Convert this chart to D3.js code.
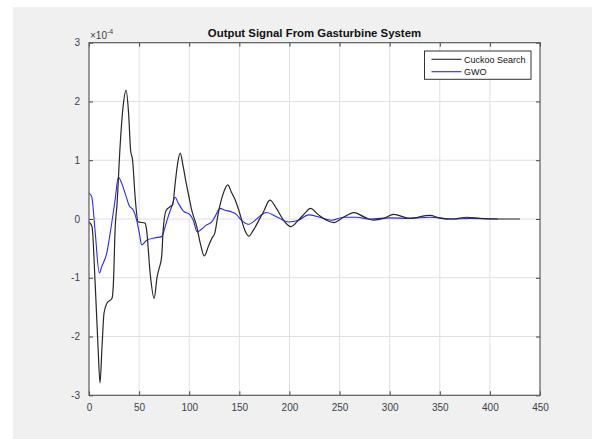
<!DOCTYPE html>
<html>
<head>
<meta charset="utf-8">
<script src="https://cdn.jsdelivr.net/npm/d3@7"></script>
<style>
  body { margin: 0; background: #fff; }
  text { font-family: "Liberation Sans", Arial, sans-serif; }
</style>
</head>
<body>
<script>
// values in units of 1e-4
const cuckooX = [0, 3, 6, 9, 11, 13, 15, 18, 23, 24.5, 26, 28, 31, 34, 37, 39.5, 41.5, 43.5, 46, 49,
    56, 57.5, 61, 65, 68, 70, 72.5, 74, 77, 81, 83.5, 86, 88.5, 91, 94, 97, 99, 102.5, 107.5, 111,
    115, 119, 122.5, 125.5, 129, 133.5, 138.5, 142, 146, 150, 155.5, 159.5, 164, 170.5, 174, 180.5,
    187, 194, 201.5, 209, 215.5, 221, 229, 237, 244.5, 252, 264.5, 274, 284, 294, 304, 320, 340,
    350, 363.5, 377, 390, 408, 430];
const cuckooY = [-0.05, -0.13, -1.04, -2.17, -2.79, -2.17, -1.6, -1.43, -1.35, -1.04, -0.19, 0.26,
    1.23, 1.91, 2.19, 1.8, 1.17, 1.0, 0.38, -0.05, -0.07, -0.19, -0.92, -1.35, -0.98, -0.84, -0.64,
    -0.19, 0.15, 0.21, 0.24, 0.61, 0.95, 1.12, 0.89, 0.61, 0.44, 0.15, -0.13, -0.41, -0.63, -0.47,
    -0.33, -0.24, 0.1, 0.41, 0.58, 0.46, 0.32, 0.12, -0.19, -0.29, -0.19, 0.01, 0.12, 0.32, 0.18,
    -0.02, -0.13, -0.02, 0.1, 0.18, 0.07, -0.02, -0.06, 0.01, 0.11, 0.04, -0.02, 0.01, 0.08, 0.01,
    0.06, 0.02, 0.0, 0.03, 0.01, 0.0, 0.0];

const gwoX = [0, 2.7, 6, 10.3, 12.7, 17.7, 21.6, 26, 29.3, 32.6, 36, 40.3, 44.3, 47.6, 50.2, 52.6,
    57.6, 66, 72.5, 76, 79, 82.5, 86, 89, 94, 100.8, 104, 108, 112.4, 117.4, 122.4, 125.7, 130.7,
    135.7, 142.4, 147, 152, 159, 166, 172, 177, 187, 199, 209, 219, 230, 242, 254, 267, 280, 300,
    320, 340, 360, 380, 408];
const gwoY = [0.44, 0.38, -0.19, -0.92, -0.81, -0.58, -0.19, 0.32, 0.71, 0.61, 0.44, 0.22, 0.15,
    -0.02, -0.24, -0.44, -0.36, -0.32, -0.3, -0.13, 0.04, 0.21, 0.37, 0.27, 0.14, 0.07, -0.02,
    -0.22, -0.17, -0.1, -0.05, 0.04, 0.18, 0.15, 0.12, 0.08, -0.02, -0.09, -0.02, 0.07, 0.11, 0.04,
    -0.05, -0.02, 0.07, 0.03, -0.02, 0.03, 0.03, 0.0, 0.02, 0.01, 0.03, 0.0, 0.01, 0.0];

const xTicks = [0, 50, 100, 150, 200, 250, 300, 350, 400, 450];
const yTicks = [-3, -2, -1, 0, 1, 2, 3];
const seriesNames = ['Cuckoo Search', 'GWO'];
const titleText = 'Output Signal From Gasturbine System';

function main()
{
    const W = 592, H = 439;
    const box = {left: 89, right: 540, top: 42.7, bottom: 395.3};

    const svg = d3.select('body').append('svg')
        .attr('width', W)
        .attr('height', H);

    svg.append('rect')
        .attr('x', 13).attr('y', 7)
        .attr('width', W - 13).attr('height', H - 7)
        .attr('fill', '#f0f0f0');

    const scX = d3.scaleLinear().domain([0, 450]).range([box.left, box.right]);
    const scY = d3.scaleLinear().domain([-3, 3]).range([box.bottom, box.top]);

    svg.append('rect')
        .attr('x', box.left).attr('y', box.top)
        .attr('width', box.right - box.left).attr('height', box.bottom - box.top)
        .attr('fill', '#fff');

    // grid
    const grid = svg.append('g').attr('stroke', '#e0e0e0').attr('stroke-width', 1);
    grid.selectAll('.gx').data(xTicks.slice(1, -1)).enter().append('line')
        .attr('x1', d => scX(d)).attr('x2', d => scX(d))
        .attr('y1', box.top).attr('y2', box.bottom);
    grid.selectAll('.gy').data(yTicks.slice(1, -1)).enter().append('line')
        .attr('y1', d => scY(d)).attr('y2', d => scY(d))
        .attr('x1', box.left).attr('x2', box.right);

    // curves
    const line = d3.line()
        .curve(d3.curveMonotoneX)
        .x(d => scX(d[0]))
        .y(d => scY(d[1]));
    svg.append('path')
        .attr('d', line(d3.zip(gwoX, gwoY)))
        .attr('fill', 'none').attr('stroke', '#2626ff').attr('stroke-width', 1.1);
    svg.append('path')
        .attr('d', line(d3.zip(cuckooX, cuckooY)))
        .attr('fill', 'none').attr('stroke', '#262626').attr('stroke-width', 1.2);

    // axes
    const plain = d => String(d);
    const axisStyle = g => {
        g.select('.domain').remove();
        g.selectAll('.tick line').attr('stroke', '#444');
        g.selectAll('.tick text')
            .attr('fill', '#3a3f4a')
            .style('font-family', '"Liberation Sans", Arial, sans-serif')
            .style('font-size', '10px');
    };
    svg.append('g')
        .attr('transform', `translate(0,${box.bottom})`)
        .call(d3.axisBottom(scX).tickValues(xTicks).tickFormat(plain)
            .tickSizeInner(-4).tickSizeOuter(0).tickPadding(9))
        .call(axisStyle);
    svg.append('g')
        .attr('transform', `translate(0,${box.top})`)
        .call(d3.axisTop(scX).tickValues(xTicks).tickSizeInner(-4).tickSizeOuter(0).tickFormat(''))
        .call(axisStyle);
    svg.append('g')
        .attr('transform', `translate(${box.left},0)`)
        .call(d3.axisLeft(scY).tickValues(yTicks).tickFormat(plain)
            .tickSizeInner(-4).tickSizeOuter(0).tickPadding(9))
        .call(axisStyle);
    svg.append('g')
        .attr('transform', `translate(${box.right},0)`)
        .call(d3.axisRight(scY).tickValues(yTicks).tickSizeInner(-4).tickSizeOuter(0).tickFormat(''))
        .call(axisStyle);

    svg.append('rect')
        .attr('x', box.left).attr('y', box.top)
        .attr('width', box.right - box.left).attr('height', box.bottom - box.top)
        .attr('fill', 'none').attr('stroke', '#5a5a5a').attr('stroke-width', 1.2);

    // exponent label
    const expo = svg.append('text')
        .attr('x', box.left + 1).attr('y', 38.5)
        .attr('fill', '#3a3f4a').style('font-size', '10px');
    expo.append('tspan').text('\u00d710');
    expo.append('tspan').attr('dy', -5).style('font-size', '7px').text('-4');

    // title
    svg.append('text')
        .attr('x', (box.left + box.right) / 2).attr('y', 36.5)
        .attr('text-anchor', 'middle')
        .attr('font-weight', 'bold')
        .style('font-size', '11.4px')
        .attr('fill', '#111')
        .text(titleText);

    // legend
    const leg = svg.append('g');
    leg.append('rect')
        .attr('x', 424.5).attr('y', 51)
        .attr('width', 106.5).attr('height', 28.3)
        .attr('fill', '#fff').attr('stroke', '#333').attr('stroke-width', 1);
    const legColors = ['#262626', '#2626ff'];
    seriesNames.forEach((name, i) => {
        const y = 59.3 + i * 12.4;
        leg.append('line')
            .attr('x1', 431.5).attr('x2', 461.5)
            .attr('y1', y).attr('y2', y)
            .attr('stroke', legColors[i]).attr('stroke-width', 1.1);
        leg.append('text')
            .attr('x', 464).attr('y', y + 3.2)
            .style('font-size', '9px')
            .attr('fill', '#111')
            .text(name);
    });
}

main();
</script>
</body>
</html>
